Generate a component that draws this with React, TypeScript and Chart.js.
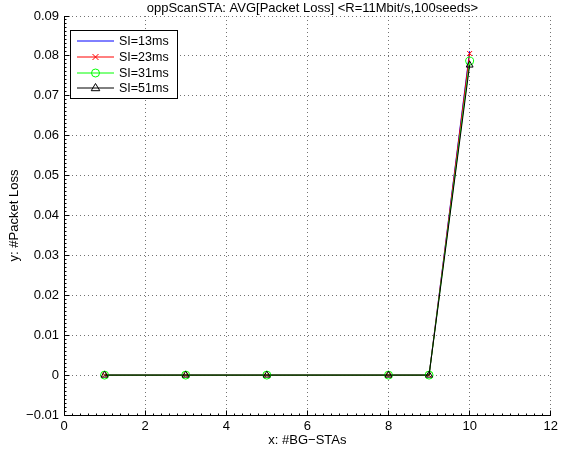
import { useEffect, useRef } from 'react';
import { Chart, registerables } from 'chart.js';

Chart.register(...registerables);

const titleText = 'oppScanSTA: AVG[Packet Loss] <R=11Mbit/s,100seeds>';
const xAxisLabel = 'x: #BG\u2212STAs';
const yAxisLabel = 'y: #Packet Loss';

const xValues = [1, 3, 5, 8, 9, 10];
const si13 = [0, 0, 0, 0, 0, 0.0812];
const si23 = [0, 0, 0, 0, 0, 0.0806];
const si31 = [0, 0, 0, 0, 0, 0.0787];
const si51 = [0, 0, 0, 0, 0, 0.0777];
const seriesLabels = ['SI=13ms', 'SI=23ms', 'SI=31ms', 'SI=51ms'];
const seriesColors = ['#0000ff', '#ff0000', '#00ff00', '#000000'];
const seriesMarkers = ['none', 'crossRot', 'circle', 'triangle'];

const xTicks = [0, 2, 4, 6, 8, 10, 12];
const yTicks = [-0.01, 0, 0.01, 0.02, 0.03, 0.04, 0.05, 0.06, 0.07, 0.08, 0.09];

const FONT = '"Liberation Sans", Arial, Helvetica, sans-serif';

function fmtY(v: number): string {
  const r = Math.round(v * 100) / 100;
  if (r === 0) return '0';
  const s = Math.abs(r).toString();
  return r < 0 ? '\u2212' + s : s;
}

function align(p: number): number {
  return Math.round(p - 0.5) + 0.5;
}

function drawMarker(ctx: CanvasRenderingContext2D, kind: string, cx: number, cy: number, color: string) {
  ctx.save();
  ctx.strokeStyle = color;
  ctx.lineWidth = 1;
  ctx.beginPath();
  if (kind === 'crossRot') {
    const r = 3;
    ctx.moveTo(cx - r, cy - r);
    ctx.lineTo(cx + r, cy + r);
    ctx.moveTo(cx - r, cy + r);
    ctx.lineTo(cx + r, cy - r);
  } else if (kind === 'circle') {
    ctx.arc(cx, cy, 4, 0, Math.PI * 2);
  } else if (kind === 'triangle') {
    const r = 4.5;
    ctx.moveTo(cx, cy - r);
    ctx.lineTo(cx + r * 0.95, cy + r * 0.6);
    ctx.lineTo(cx - r * 0.95, cy + r * 0.6);
    ctx.closePath();
  }
  ctx.stroke();
  ctx.restore();
}

const titlePlugin = {
  id: 'matlabTitle',
  afterDraw(chart: any) {
    const { ctx, chartArea } = chart;
    ctx.save();
    ctx.font = '13px ' + FONT;
    ctx.fillStyle = '#000';
    ctx.textAlign = 'center';
    ctx.textBaseline = 'middle';
    ctx.fillText(titleText, (chartArea.left + chartArea.right) / 2 + 5, 8.5);
    ctx.restore();
  },
};

const axesPlugin = {
  id: 'matlabAxes',
  afterDatasetsDraw(chart: any) {
    const { ctx, chartArea } = chart;
    const { left, right, top, bottom } = chartArea;
    const xs = chart.scales.x;
    const ys = chart.scales.y;
    const L = align(left);
    const B = align(bottom);
    ctx.save();
    ctx.strokeStyle = '#000';
    ctx.lineWidth = 1;
    ctx.beginPath();
    ctx.moveTo(L, Math.round(top));
    ctx.lineTo(L, B);
    ctx.lineTo(Math.round(right), B);
    yTicks.forEach((v) => {
      const py = align(ys.getPixelForValue(v));
      ctx.moveTo(L, py);
      ctx.lineTo(L + 5, py);
    });
    xTicks.forEach((v) => {
      const px = align(xs.getPixelForValue(v));
      ctx.moveTo(px, B);
      ctx.lineTo(px, B - 5);
    });
    for (let i = 0; i < yTicks.length - 1; i++) {
      for (let k = 1; k < 10; k++) {
        const v = yTicks[i] + ((yTicks[i + 1] - yTicks[i]) * k) / 10;
        const py = align(ys.getPixelForValue(v));
        ctx.moveTo(L, py);
        ctx.lineTo(L + 2, py);
      }
    }
    for (let i = 0; i < xTicks.length - 1; i++) {
      for (let k = 1; k < 10; k++) {
        const v = xTicks[i] + ((xTicks[i + 1] - xTicks[i]) * k) / 10;
        const px = align(xs.getPixelForValue(v));
        ctx.moveTo(px, B);
        ctx.lineTo(px, B - 2);
      }
    }
    ctx.stroke();
    ctx.restore();
  },
};

const legendPlugin = {
  id: 'matlabLegend',
  afterDraw(chart: any) {
    const { ctx } = chart;
    const bx = 70.5;
    const by = 30.5;
    const bw = 107;
    const bh = 68;
    ctx.save();
    ctx.fillStyle = '#fff';
    ctx.fillRect(bx, by, bw, bh);
    ctx.strokeStyle = '#000';
    ctx.lineWidth = 1;
    ctx.strokeRect(bx, by, bw, bh);
    ctx.font = '12.5px ' + FONT;
    ctx.textBaseline = 'middle';
    ctx.textAlign = 'left';
    seriesLabels.forEach((lab, i) => {
      const cy = Math.round(40.7 + i * 15.9);
      ctx.strokeStyle = seriesColors[i];
      ctx.lineWidth = 1;
      ctx.beginPath();
      ctx.moveTo(77, cy);
      ctx.lineTo(114, cy);
      ctx.stroke();
      drawMarker(ctx, seriesMarkers[i], 95.5, cy, seriesColors[i]);
      ctx.fillStyle = '#000';
      ctx.fillText(lab, 119, cy + 0.5);
    });
    ctx.restore();
  },
};

export default function App() {
  const ref = useRef<HTMLCanvasElement | null>(null);

  useEffect(() => {
    if (!ref.current) return;
    const seriesData = [si13, si23, si31, si51];
    const datasets = seriesData.map((arr, i) => ({
      label: seriesLabels[i],
      data: xValues.map((x, j) => ({ x, y: arr[j] })),
      borderColor: seriesColors[i],
      backgroundColor: seriesColors[i],
      borderWidth: 1,
      pointStyle: seriesMarkers[i] === 'none' ? 'circle' : seriesMarkers[i],
      pointRadius: seriesMarkers[i] === 'none' ? 0 : seriesMarkers[i] === 'crossRot' ? 3.5 : 4,
      pointBorderColor: seriesColors[i],
      pointBackgroundColor: 'rgba(0,0,0,0)',
      pointBorderWidth: 1,
      tension: 0,
      order: 3 - i,
    }));

    const chart = new Chart(ref.current, {
      type: 'line',
      data: { datasets },
      plugins: [axesPlugin, legendPlugin, titlePlugin],
      options: {
        animation: false,
        responsive: false,
        devicePixelRatio: 1,
        layout: { padding: { left: 0, right: 7, top: 16, bottom: 0 } },
        plugins: {
          legend: { display: false },
          tooltip: { enabled: false },
          title: { display: false },
        },
        scales: {
          x: {
            type: 'linear',
            min: 0,
            max: 12,
            afterBuildTicks: (s: any) => {
              s.ticks = xTicks.map((v) => ({ value: v }));
            },
            afterFit: (s: any) => {
              s.height = 36;
            },
            ticks: {
              color: '#000',
              font: { family: FONT, size: 13 },
              padding: 4,
              autoSkip: false,
              maxRotation: 0,
              callback: (v: any) => String(v),
            },
            grid: { color: 'rgba(0,0,0,0.55)', drawTicks: false, lineWidth: 1 },
            border: { display: false, dash: [1, 3] },
            title: {
              display: true,
              text: xAxisLabel,
              color: '#000',
              font: { family: FONT, size: 13 },
              padding: { top: 0, bottom: 3 },
            },
          },
          y: {
            type: 'linear',
            min: -0.01,
            max: 0.09,
            afterBuildTicks: (s: any) => {
              s.ticks = yTicks.map((v) => ({ value: v }));
            },
            afterFit: (s: any) => {
              s.width = 64;
            },
            ticks: {
              color: '#000',
              font: { family: FONT, size: 13 },
              padding: 5,
              autoSkip: false,
              callback: (v: any) => fmtY(Number(v)),
            },
            grid: { color: 'rgba(0,0,0,0.55)', drawTicks: false, lineWidth: 1 },
            border: { display: false, dash: [1, 3] },
            title: {
              display: true,
              text: yAxisLabel,
              color: '#000',
              font: { family: FONT, size: 13 },
              padding: { top: 7, bottom: 0 },
            },
          },
        },
      } as any,
    });
    return () => chart.destroy();
  }, []);

  return (
    <div style={{ position: 'fixed', left: 0, top: 0, width: 562, height: 451, background: '#fff' }}>
      <canvas ref={ref} width={562} height={451} style={{ display: 'block' }} />
    </div>
  );
}
